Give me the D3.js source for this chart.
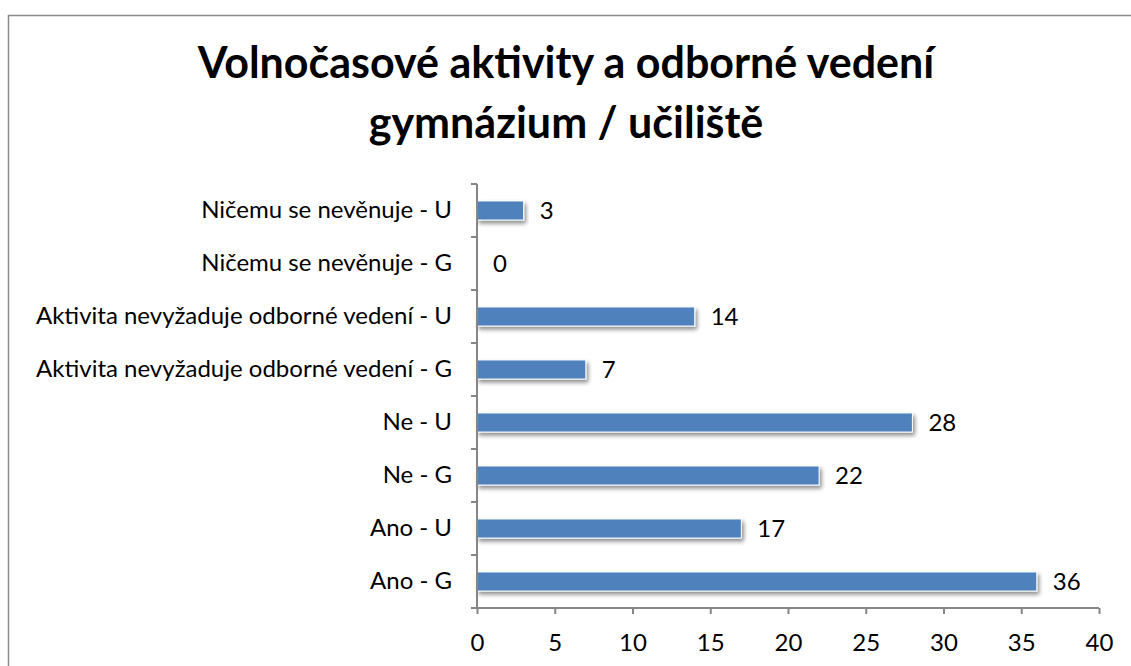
<!DOCTYPE html>
<html>
<head>
<meta charset="utf-8">
<script src="https://cdn.jsdelivr.net/npm/d3@7"></script>
<style>
  body { margin: 0; background: #fff; }
  svg { display: block; font-family: Lato, "Open Sans", sans-serif; }
</style>
</head>
<body>
<div id="chart"></div>
<script>
const titleLines = ['Volnočasové aktivity a odborné vedení', 'gymnázium / učiliště'];
const categories = [
    'Ano - G',
    'Ano - U',
    'Ne - G',
    'Ne - U',
    'Aktivita nevyžaduje odborné vedení - G',
    'Aktivita nevyžaduje odborné vedení - U',
    'Ničemu se nevěnuje - G',
    'Ničemu se nevěnuje - U'
];
const values = [36, 17, 22, 28, 7, 14, 0, 3];
const xTicks = [0, 5, 10, 15, 20, 25, 30, 35, 40];

const width = 1131;
const height = 666;
const plot = { left: 477, right: 1099, top: 184, bottom: 608 };
const fontFam = 'Lato, "Open Sans", sans-serif';

const svg = d3.select('#chart').append('svg')
    .attr('width', width)
    .attr('height', height);

const defs = svg.append('defs');
const shadow = defs.append('filter').attr('id', 'shadow')
    .attr('x', '-5%').attr('y', '-30%').attr('width', '115%').attr('height', '190%');
shadow.append('feGaussianBlur').attr('in', 'SourceAlpha').attr('stdDeviation', 2).attr('result', 'blur');
shadow.append('feOffset').attr('in', 'blur').attr('dx', 2).attr('dy', 3).attr('result', 'off');
shadow.append('feComponentTransfer').attr('in', 'off').attr('result', 'soft')
    .append('feFuncA').attr('type', 'linear').attr('slope', 0.45);
const merge = shadow.append('feMerge');
merge.append('feMergeNode').attr('in', 'soft');
merge.append('feMergeNode').attr('in', 'SourceGraphic');

// chart border
svg.append('rect')
    .attr('x', 8.5).attr('y', 15.5)
    .attr('width', 1140).attr('height', 700)
    .attr('fill', '#fff')
    .attr('stroke', '#8c8c8c')
    .attr('stroke-width', 1.5);

svg.append('g').selectAll('text')
    .data(titleLines)
    .enter().append('text')
    .attr('x', 566)
    .attr('y', (d, i) => 78 + i * 60)
    .attr('text-anchor', 'middle')
    .attr('font-size', 43)
    .attr('font-weight', 'bold')
    .attr('fill', '#000')
    .text(d => d);

const x = d3.scaleLinear().domain([0, 40]).range([plot.left, plot.right]);
const y = d3.scaleBand().domain(categories.slice().reverse()).range([plot.top, plot.bottom]).paddingInner(0.64).paddingOuter(0.32);
const yBand = d3.scaleBand().domain(categories.slice().reverse()).range([plot.top, plot.bottom]);

const axisColor = '#868686';

// bars
svg.append('g')
    .selectAll('rect')
    .data(categories)
    .enter().append('rect')
    .attr('x', x(0))
    .attr('y', d => y(d))
    .attr('width', (d, i) => x(values[i]) - x(0))
    .attr('height', y.bandwidth())
    .attr('fill', '#4f81bd')
    .attr('stroke', '#fff')
    .attr('stroke-width', 1)
    .attr('filter', 'url(#shadow)')
    .style('display', (d, i) => values[i] === 0 ? 'none' : null);

// value labels
svg.append('g')
    .selectAll('text')
    .data(categories)
    .enter().append('text')
    .attr('x', (d, i) => x(values[i]) + 16)
    .attr('y', d => y(d) + y.bandwidth() / 2)
    .attr('dy', '0.36em')
    .attr('font-size', 24)
    .attr('fill', '#000')
    .text((d, i) => values[i]);

// x axis
const xAxis = svg.append('g')
    .attr('transform', `translate(0,${plot.bottom})`)
    .call(d3.axisBottom(x).tickValues(xTicks).tickSize(6).tickPadding(20));
xAxis.selectAll('text').attr('font-size', 24).attr('font-family', fontFam).attr('fill', '#000');

// y axis
const yAxis = svg.append('g')
    .attr('transform', `translate(${plot.left},0)`)
    .call(d3.axisLeft(yBand).tickSize(0).tickPadding(25));
yAxis.selectAll('text').attr('font-size', 24).attr('font-family', fontFam).attr('fill', '#000');
yAxis.selectAll('.boundary')
    .data(d3.range(categories.length + 1))
    .enter().append('line')
    .attr('class', 'boundary')
    .attr('x1', -6).attr('x2', 0)
    .attr('y1', d => plot.top + d * yBand.step())
    .attr('y2', d => plot.top + d * yBand.step());

[xAxis, yAxis].forEach(g => {
    g.selectAll('.domain').attr('stroke', axisColor).attr('stroke-width', 2);
    g.selectAll('line').attr('stroke', axisColor).attr('stroke-width', 2);
});
yAxis.select('.domain').attr('d', `M0,${plot.top}V${plot.bottom}`);
xAxis.select('.domain').attr('d', `M${plot.left},0H${plot.right}`);
</script>
</body>
</html>
